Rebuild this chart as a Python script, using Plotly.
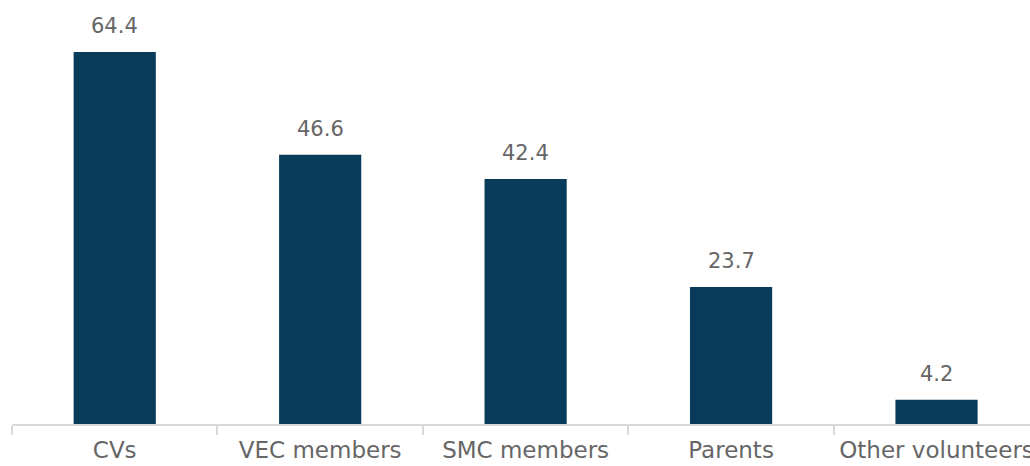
import plotly.graph_objects as go

categories = ["CVs", "VEC members", "SMC members", "Parents", "Other volunteers"]
values = [64.4, 46.6, 42.4, 23.7, 4.2]

bar_color = "#083c5a"
text_color = "#666666"
font_family = "DejaVu Sans, Verdana, sans-serif"

fig = go.Figure(
    go.Bar(
        x=categories,
        y=values,
        width=0.4,
        marker=dict(color=bar_color, line=dict(width=0)),
        hoverinfo="x+y",
    )
)

# value labels above each bar
for cat, val in zip(categories, values):
    fig.add_annotation(
        x=cat, y=val, text=f"{val:.1f}", showarrow=False,
        yanchor="bottom", yshift=12,
        font=dict(family=font_family, size=21, color=text_color),
    )

fig.update_layout(
    width=1030, height=466,
    margin=dict(l=12, r=0, t=0, b=42),
    plot_bgcolor="white", paper_bgcolor="white",
    showlegend=False,
    bargap=0.6,
)
fig.update_xaxes(
    type="category",
    range=[-0.5, 4.455],
    showline=True, linecolor="#d9d9d9", linewidth=1.5,
    ticks="outside", tickson="boundaries", ticklen=9, tickcolor="#d9d9d9", tickwidth=1.5,
    tickfont=dict(family=font_family, size=23, color=text_color),
    tickangle=0, automargin=False,
    ticklabelstandoff=5,
    showgrid=False, zeroline=False,
)
fig.update_yaxes(
    range=[0, 73.4], visible=False, showgrid=False, zeroline=False,
)

fig.write_html("out.html")
